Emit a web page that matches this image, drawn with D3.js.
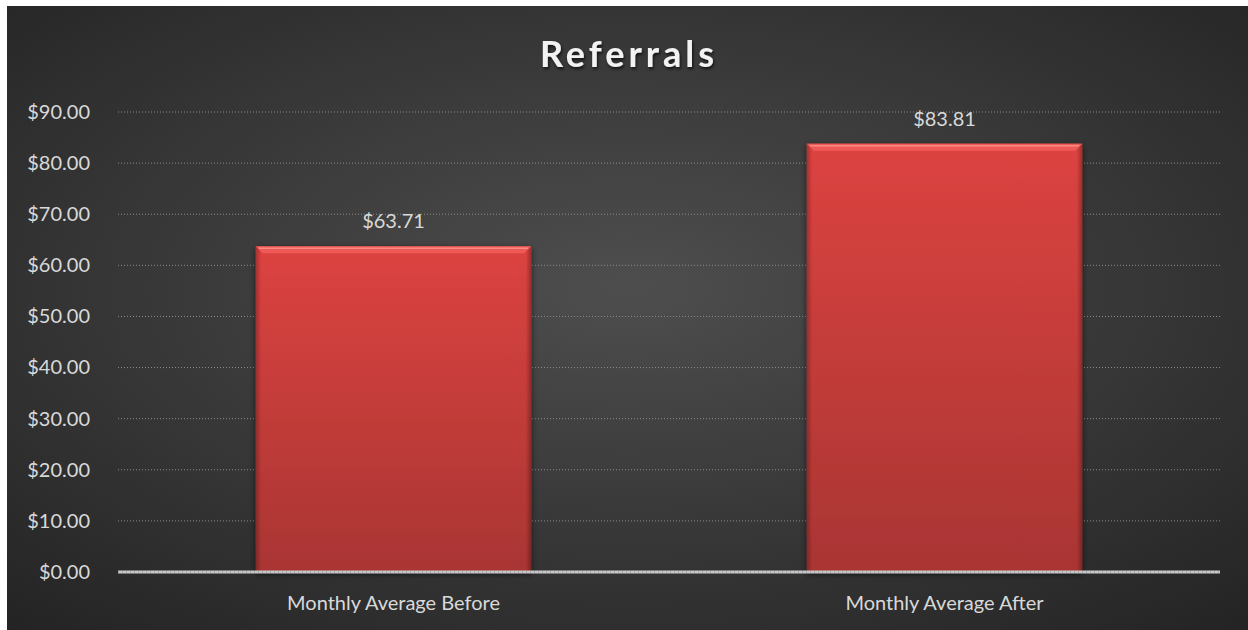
<!DOCTYPE html>
<html>
<head>
<meta charset="utf-8">
<script src="https://cdn.jsdelivr.net/npm/d3@7"></script>
<style>
  body { margin: 0; background: #fff; }
  svg { display: block; }
</style>
</head>
<body>
<div id="chart"></div>
<script>
let categories = ['Monthly Average Before', 'Monthly Average After']
let values = [63.71, 83.81]
let yTicks = [0, 10, 20, 30, 40, 50, 60, 70, 80, 90]
let title = 'Referrals'

let W = 1248
let H = 630
let margin = { top: 112, bottom: 58, left: 118, right: 28 }
let width = W - margin.left - margin.right
let height = H - margin.top - margin.bottom

let font = 'Lato, "Open Sans", sans-serif'
let fmt = d => '$' + d3.format(',.2f')(d)

let root = d3.select('#chart').append('svg')
  .attr('width', W)
  .attr('height', H)

let defs = root.append('defs')

let bg = defs.append('radialGradient')
  .attr('id', 'bg')
  .attr('cx', '50%').attr('cy', '45%').attr('r', '75%')
bg.append('stop').attr('offset', '0%').attr('stop-color', '#4e4e4e')
bg.append('stop').attr('offset', '100%').attr('stop-color', '#232323')

let barGrad = defs.append('linearGradient')
  .attr('id', 'barGrad')
  .attr('x1', 0).attr('y1', 0).attr('x2', 0).attr('y2', 1)
barGrad.append('stop').attr('offset', '0%').attr('stop-color', '#dc4340')
barGrad.append('stop').attr('offset', '100%').attr('stop-color', '#a93533')

let sideGrad = defs.append('linearGradient')
  .attr('id', 'sideGrad')
  .attr('x1', 0).attr('y1', 0).attr('x2', 1).attr('y2', 0)
sideGrad.append('stop').attr('offset', '0%').attr('stop-color', '#000').attr('stop-opacity', 0.25)
sideGrad.append('stop').attr('offset', '2%').attr('stop-color', '#000').attr('stop-opacity', 0)
sideGrad.append('stop').attr('offset', '98%').attr('stop-color', '#000').attr('stop-opacity', 0)
sideGrad.append('stop').attr('offset', '100%').attr('stop-color', '#000').attr('stop-opacity', 0.3)

let shadow = defs.append('filter').attr('id', 'shadow')
  .attr('x', '-10%').attr('y', '-10%').attr('width', '120%').attr('height', '120%')
shadow.append('feDropShadow')
  .attr('dx', 0).attr('dy', 2).attr('stdDeviation', 3)
  .attr('flood-color', '#000').attr('flood-opacity', 0.6)

let titleShadow = defs.append('filter').attr('id', 'titleShadow')
titleShadow.append('feDropShadow')
  .attr('dx', 1).attr('dy', 2).attr('stdDeviation', 1.5)
  .attr('flood-color', '#000').attr('flood-opacity', 0.7)

root.append('rect')
  .attr('x', 7).attr('y', 6)
  .attr('width', W - 7).attr('height', H - 6)
  .attr('fill', 'url(#bg)')

root.append('text')
  .attr('x', 629)
  .attr('y', 67)
  .attr('text-anchor', 'middle')
  .attr('font-family', font)
  .attr('font-weight', 'bold')
  .attr('font-size', 36)
  .attr('letter-spacing', 4)
  .attr('fill', '#f2f2f2')
  .attr('filter', 'url(#titleShadow)')
  .text(title)

let svg = root.append('g')
  .attr('transform', `translate(${margin.left},${margin.top})`)

let xScale = d3.scaleBand()
  .domain(categories)
  .range([0, width])
  .paddingInner(0.5)
  .paddingOuter(0.25)

let yScale = d3.scaleLinear()
  .domain([0, 90])
  .range([height, 0])

// gridlines
svg.selectAll('.grid')
  .data(yTicks.filter(d => d > 0))
  .enter()
  .append('line')
  .attr('class', 'grid')
  .attr('x1', 0)
  .attr('x2', width)
  .attr('y1', d => yScale(d))
  .attr('y2', d => yScale(d))
  .attr('stroke', '#8c8c8c')
  .attr('stroke-width', 1)
  .attr('stroke-dasharray', '1,2')

let yAxis = d3.axisLeft(yScale)
  .tickValues(yTicks)
  .tickFormat(fmt)
  .tickSize(0)
  .tickPadding(28)

svg.append('g')
  .call(yAxis)
  .call(g => g.select('.domain').remove())
  .selectAll('text')
  .attr('font-family', font)
  .attr('font-size', 20)
  .attr('fill', '#d9d9d9')

let bars = svg.selectAll('.bar')
  .data(values)
  .enter()
  .append('g')
  .attr('class', 'bar')

bars.append('rect')
  .attr('x', (d, i) => xScale(categories[i]))
  .attr('y', d => yScale(d))
  .attr('width', xScale.bandwidth())
  .attr('height', d => height - yScale(d))
  .attr('fill', 'url(#barGrad)')
  .attr('filter', 'url(#shadow)')

bars.append('rect')
  .attr('x', (d, i) => xScale(categories[i]))
  .attr('y', d => yScale(d))
  .attr('width', xScale.bandwidth())
  .attr('height', d => height - yScale(d))
  .attr('fill', 'url(#sideGrad)')

// top bevel
bars.append('path')
  .attr('d', (d, i) => {
    let x0 = xScale(categories[i])
    let x1 = x0 + xScale.bandwidth()
    let y0 = yScale(d)
    let b = 7
    return `M${x0},${y0}L${x1},${y0}L${x1 - b},${y0 + b}L${x0 + b},${y0 + b}Z`
  })
  .attr('fill', '#ef5a57')

bars.append('line')
  .attr('x1', (d, i) => xScale(categories[i]) + 3)
  .attr('x2', (d, i) => xScale(categories[i]) + xScale.bandwidth() - 3)
  .attr('y1', d => yScale(d) + 2)
  .attr('y2', d => yScale(d) + 2)
  .attr('stroke', '#f98a86')
  .attr('stroke-width', 1.5)

bars.append('text')
  .attr('x', (d, i) => xScale(categories[i]) + xScale.bandwidth() / 2)
  .attr('y', d => yScale(d) - 18)
  .attr('text-anchor', 'middle')
  .attr('font-family', font)
  .attr('font-size', 20)
  .attr('fill', '#d9d9d9')
  .text(d => fmt(d))

// zero line
svg.append('line')
  .attr('x1', 0)
  .attr('x2', width)
  .attr('y1', yScale(0))
  .attr('y2', yScale(0))
  .attr('stroke', '#c8c8c8')
  .attr('stroke-width', 3)

svg.append('line')
  .attr('x1', 0)
  .attr('x2', width)
  .attr('y1', yScale(0))
  .attr('y2', yScale(0))
  .attr('stroke', '#8a8a8a')
  .attr('stroke-width', 1)
  .attr('stroke-dasharray', '1,3')

let xAxis = d3.axisBottom(xScale).tickSize(0).tickPadding(24)

svg.append('g')
  .attr('transform', `translate(0,${height})`)
  .call(xAxis)
  .call(g => g.select('.domain').remove())
  .selectAll('text')
  .attr('font-family', font)
  .attr('font-size', 20)
  .attr('fill', '#d9d9d9')
</script>
</body>
</html>
